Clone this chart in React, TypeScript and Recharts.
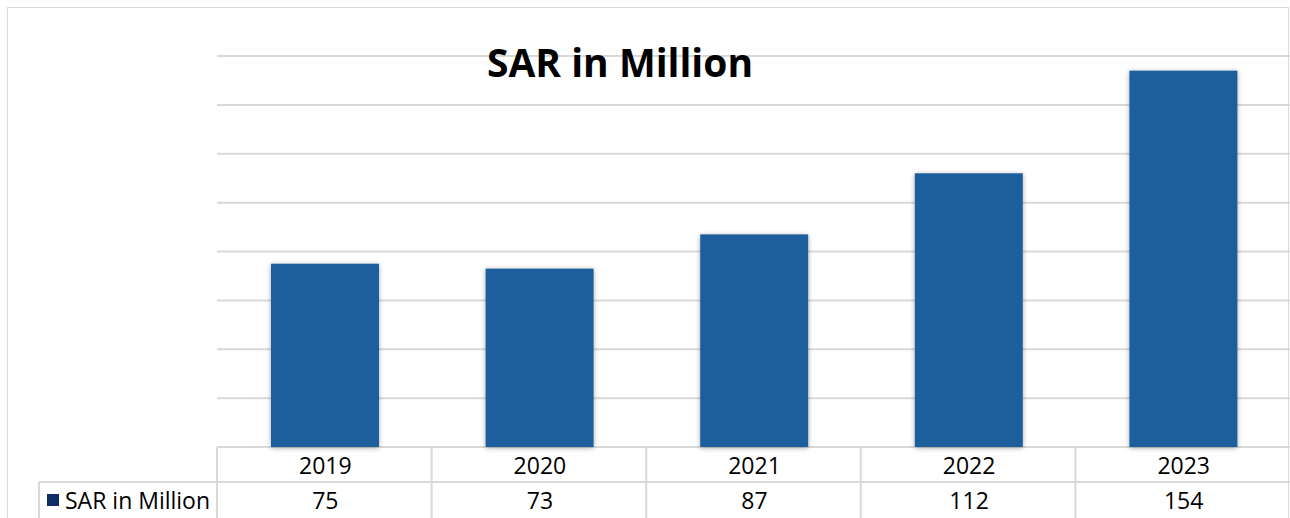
import { BarChart, Bar, XAxis, YAxis, CartesianGrid } from "recharts";

// Chart data
const years = ["2019", "2020", "2021", "2022", "2023"];
const sarValues = [75, 73, 87, 112, 154];
const yTicks = [0, 20, 40, 60, 80, 100, 120, 140, 160];
const seriesName = "SAR in Million";

const W = 1290;
const H = 518;
const tableHeight = 71;
const M = { top: 56, right: 0, left: 217, bottom: 0 };
const plotBottom = H - tableHeight;
const band = (W - M.left - M.right) / years.length;
const rowSplit = plotBottom + 35;
const lineColor = "#d9d9d9";
const font = "'Open Sans', sans-serif";

const data = years.map((year, i) => ({ year, value: sarValues[i] }));

// Draws one column of the data table under the bars
function TableTick(props: any) {
  const { x, index, payload } = props;
  const left = x - band / 2;
  return (
    <g>
      <line x1={left} y1={plotBottom} x2={left} y2={H + 4} stroke={lineColor} strokeWidth={2} />
      <line x1={left} y1={rowSplit} x2={left + band} y2={rowSplit} stroke={lineColor} strokeWidth={2} />
      <text x={x + 1} y={plotBottom + 18} textAnchor="middle" dominantBaseline="central" fontFamily={font} fontSize={23} fill="#000">
        {payload.value}
      </text>
      <text x={x + 1} y={rowSplit + 18} textAnchor="middle" dominantBaseline="central" fontFamily={font} fontSize={23} fill="#000">
        {sarValues[index]}
      </text>
      {index === 0 && (
        <g>
          <line x1={39} y1={rowSplit} x2={left} y2={rowSplit} stroke={lineColor} strokeWidth={2} />
          <line x1={39} y1={rowSplit} x2={39} y2={H + 4} stroke={lineColor} strokeWidth={2} />
          <rect x={47} y={494} width={12} height={12} fill="#0e2f63" />
          <text x={65} y={rowSplit + 18} dominantBaseline="central" fontFamily={font} fontSize={23} fill="#000">
            {seriesName}
          </text>
        </g>
      )}
    </g>
  );
}

export default function App() {
  return (
    <div style={{ position: "absolute", left: 0, top: 0, width: W, height: H, background: "#fff", overflow: "hidden" }}>
      <div
        style={{
          position: "absolute",
          left: 7,
          top: 7,
          width: W - 8,
          height: H,
          border: `1.5px solid ${lineColor}`,
          boxSizing: "border-box",
        }}
      />
      <BarChart width={W} height={H} data={data} margin={M} barSize={108}>
        <defs>
          <filter id="barShadow" x="-20%" y="-20%" width="140%" height="140%">
            <feDropShadow dx={0} dy={1} stdDeviation={2.5} floodColor="#000" floodOpacity={0.35} />
          </filter>
        </defs>
        <CartesianGrid horizontal vertical={false} stroke={lineColor} strokeWidth={2} />
        <YAxis hide domain={[0, 160]} ticks={yTicks} />
        <XAxis
          dataKey="year"
          axisLine={false}
          tickLine={false}
          interval={0}
          height={tableHeight}
          tick={<TableTick />}
        />
        <Bar
          dataKey="value"
          name={seriesName}
          fill="#1f5e9c"
          isAnimationActive={false}
          shape={(p: any) => (
            <rect x={p.x + 1} y={p.y} width={p.width} height={p.height} fill="#1f5e9c" filter="url(#barShadow)" />
          )}
        />
      </BarChart>
      <div
        style={{
          position: "absolute",
          left: 420,
          width: 400,
          top: 36,
          textAlign: "center",
          fontFamily: font,
          fontWeight: 700,
          fontSize: 39,
          lineHeight: "52px",
          color: "#000",
        }}
      >
        {seriesName}
      </div>
    </div>
  );
}
